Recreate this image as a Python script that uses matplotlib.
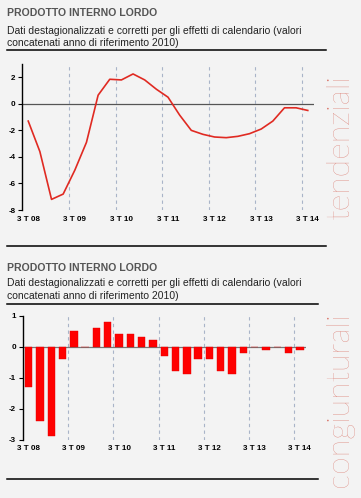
import numpy as np
import matplotlib
matplotlib.use("Agg")
import matplotlib.pyplot as plt

# quarters from 3T08 to 3T14
quarters = ["3 T 08", "4 T 08", "1 T 09", "2 T 09", "3 T 09", "4 T 09", "1 T 10", "2 T 10",
            "3 T 10", "4 T 10", "1 T 11", "2 T 11", "3 T 11", "4 T 11", "1 T 12", "2 T 12",
            "3 T 12", "4 T 12", "1 T 13", "2 T 13", "3 T 13", "4 T 13", "1 T 14", "2 T 14",
            "3 T 14"]
tick_labels = ["3 T 08", "3 T 09", "3 T 10", "3 T 11", "3 T 12", "3 T 13", "3 T 14"]

# variazioni tendenziali (%)
tendenziali = [-1.3, -3.6, -7.2, -6.8, -5.0, -2.9, 0.65, 1.85, 1.8, 2.25, 1.8, 1.1,
               0.5, -0.85, -2.0, -2.3, -2.5, -2.55, -2.45, -2.25, -1.9, -1.3, -0.3,
               -0.3, -0.5]
# variazioni congiunturali (%)
congiunturali = [-1.3, -2.4, -2.9, -0.4, 0.5, 0.0, 0.6, 0.8, 0.4, 0.4, 0.3, 0.2,
                 -0.3, -0.8, -0.9, -0.4, -0.4, -0.8, -0.9, -0.2, 0.0, -0.1, 0.0,
                 -0.2, -0.1]

title = "PRODOTTO INTERNO LORDO"
subtitle = ["Dati destagionalizzati e corretti per gli effetti di calendario (valori",
            "concatenati anno di riferimento 2010)"]

W, H = 361, 498
BG = "#f3f3f3"
GRID = "#a9b4c8"
SIDE = "#d9766b"
FONT = ["Liberation Sans", "DejaVu Sans"]

fig = plt.figure(figsize=(W / 100, H / 100), dpi=100, facecolor=BG)


def fx(px):
    return px / W


def fy(py):
    return 1 - py / H


def header(y_title, y_sub, y_rule, y_bottom, x_right):
    fig.text(fx(7), fy(y_title), title, fontsize=7.6, fontweight="bold", color="#555555",
             va="center", ha="left", family=FONT)
    for k, line in enumerate(subtitle):
        fig.text(fx(7), fy(y_sub + 12.5 * k), line, fontsize=7.5, color="#222222",
                 va="center", ha="left", family=FONT)
    for y in (y_rule, y_bottom):
        fig.lines.append(plt.Line2D([fx(7), fx(x_right)], [fy(y), fy(y)], color="black",
                                    lw=1.1, transform=fig.transFigure))


def style_axes(ax, ylim, yticks, zero_color):
    ax.set_facecolor(BG)
    n = len(quarters)
    ax.set_xlim(0, n)
    ax.set_ylim(*ylim)
    for s in ("top", "right", "bottom"):
        ax.spines[s].set_visible(False)
    ax.spines["left"].set_linewidth(1.0)
    ax.set_yticks(yticks)
    ax.set_yticklabels([str(t) for t in yticks], fontsize=5.8, fontweight="bold",
                       family=FONT)
    ax.tick_params(axis="y", length=3, width=0.8, pad=2)
    ax.set_xticks([i + 0.5 for i in range(0, n, 4)])
    ax.set_xticklabels(tick_labels, fontsize=5.8, fontweight="bold", family=FONT)
    ax.tick_params(axis="x", length=0, pad=4)
    for x in range(4, n + 1, 4):
        ax.axvline(x, color=GRID, lw=0.8, ls=(0, (3, 3)), zorder=0)
    ax.axhline(0, color=zero_color, lw=0.9, zorder=1)


x = np.arange(len(quarters)) + 0.5

# --- tendenziali ---
header(13, 31, 50, 246, 326)
ax1 = fig.add_axes([fx(22.4), fy(210), fx(291.2), 146 / H])
style_axes(ax1, (-8, 3), [-8, -6, -4, -2, 0, 2], "#555555")
ax1.plot(x, tendenziali, color="#e02a22", lw=1.2, zorder=3)
fig.text(fx(340), fy(147), "tendenziali", rotation=90, fontsize=23, color=SIDE,
         va="center", ha="center", family=["Lato", "DejaVu Sans"], fontweight="light")

# --- congiunturali ---
header(268, 283, 304, 479, 318)
ax2 = fig.add_axes([fx(23), fy(439.5), fx(282.5), 124 / H])
style_axes(ax2, (-3, 1), [-3, -2, -1, 0, 1], "#777777")
ax2.bar(x, congiunturali, width=0.65, color="#ff0000", edgecolor="#e00000", lw=0.3,
        zorder=2)
fig.text(fx(340), fy(400), "congiunturali", rotation=90, fontsize=23, color=SIDE,
         va="center", ha="center", family=["Lato", "DejaVu Sans"], fontweight="light")

fig.savefig("out.png", dpi=100, facecolor=BG)
